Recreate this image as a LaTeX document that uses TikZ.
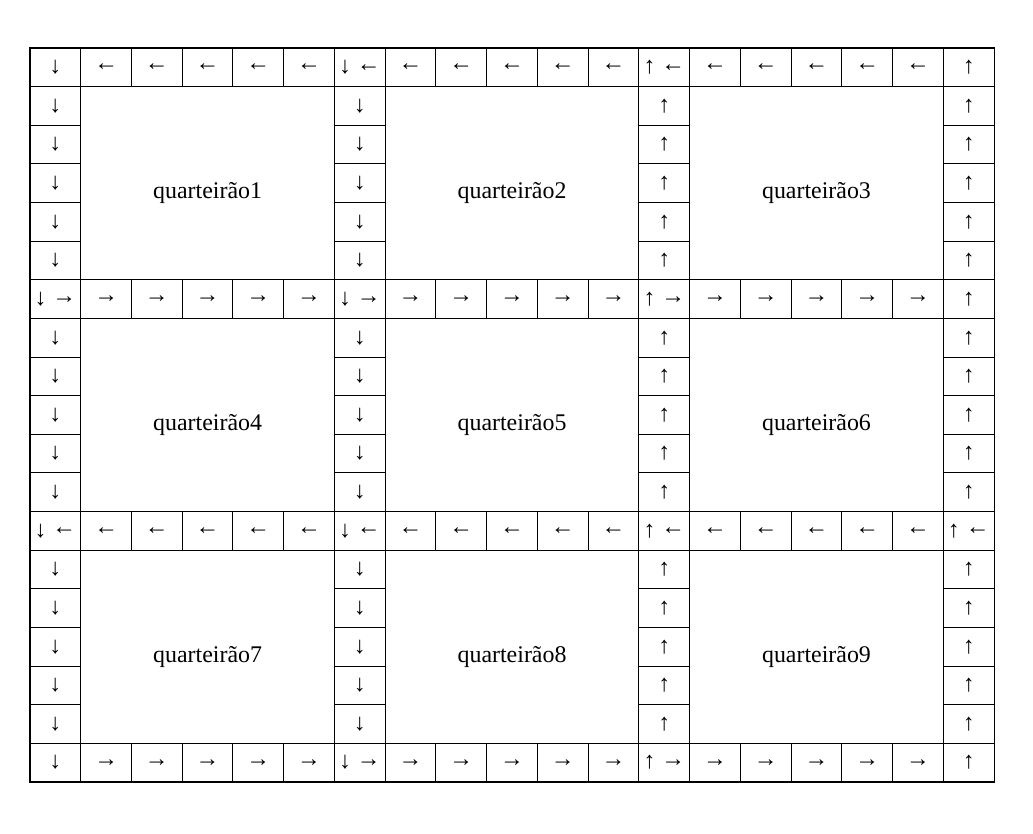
\documentclass[tikz,border=0pt]{standalone}
\usepackage{fontspec}
\setmainfont{Liberation Serif}
\usepackage{tikz}
\usetikzlibrary{positioning}

% setas horizontais levantadas para os cruzamentos
\newcommand{\esq}{\raisebox{0.1em}{←}}
\newcommand{\dir}{\raisebox{0.1em}{→}}

\begin{document}
\begin{tikzpicture}[
		x=1.0148cm, y=-0.7726cm,
		cell/.style={
			rectangle,
			draw=black,
			line width=0.6pt,
			minimum width=1.0148cm,
			minimum height=0.7726cm,
			inner sep=0pt,
			outer sep=0pt,
			font=\fontsize{13.5}{16}\selectfont
		},
		block/.style={
			rectangle,
			draw=black,
			line width=0.6pt,
			minimum width=5.074cm,
			minimum height=3.863cm,
			inner sep=0pt,
			outer sep=0pt
		},
		blocklabel/.style={
			inner sep=0pt,
			font=\fontsize{13.6}{16}\selectfont
		}
	]

	\useasboundingbox (-0.5913,-1.2426) rectangle (19.767,20.321);

	% quarteiroes
	\foreach \r/\c/\n in {1/1/1, 1/7/2, 1/13/3, 7/1/4, 7/7/5, 7/13/6, 13/1/7, 13/7/8, 13/13/9} {
		\node[block] (q\n) at (\c+2.5,\r+2.5) {};
		\node[blocklabel] (l\n) at ([yshift=-0.2cm]q\n.center) {quarteirão\n};
	}

	% ruas horizontais
	\foreach \r/\sym in {0/←, 6/→, 12/←, 18/→}
		\foreach \c in {1,...,5,7,8,...,11,13,14,...,17}
			\node[cell] (c-\r-\c) at (\c+0.5,\r+0.5) {\sym};

	% ruas verticais
	\foreach \c/\sym in {0/↓, 6/↓, 12/↑, 18/↑}
		\foreach \r in {1,...,5,7,8,...,11,13,14,...,17}
			\node[cell] (c-\r-\c) at (\c+0.5,\r+0.5) {\sym};

	% cruzamentos
	\foreach \r/\c/\sym in {
			0/0/↓, 0/6/↓\hspace{0.25em}\esq, 0/12/↑\hspace{0.25em}\esq, 0/18/↑,
			6/0/↓\hspace{0.25em}\dir, 6/6/↓\hspace{0.25em}\dir, 6/12/↑\hspace{0.25em}\dir, 6/18/↑,
			12/0/↓\hspace{0.25em}\esq, 12/6/↓\hspace{0.25em}\esq, 12/12/↑\hspace{0.25em}\esq, 12/18/↑\hspace{0.25em}\esq,
			18/0/↓, 18/6/↓\hspace{0.25em}\dir, 18/12/↑\hspace{0.25em}\dir, 18/18/↑}
		\node[cell] (c-\r-\c) at (\c+0.5,\r+0.5) {\sym};

\end{tikzpicture}
\end{document}
